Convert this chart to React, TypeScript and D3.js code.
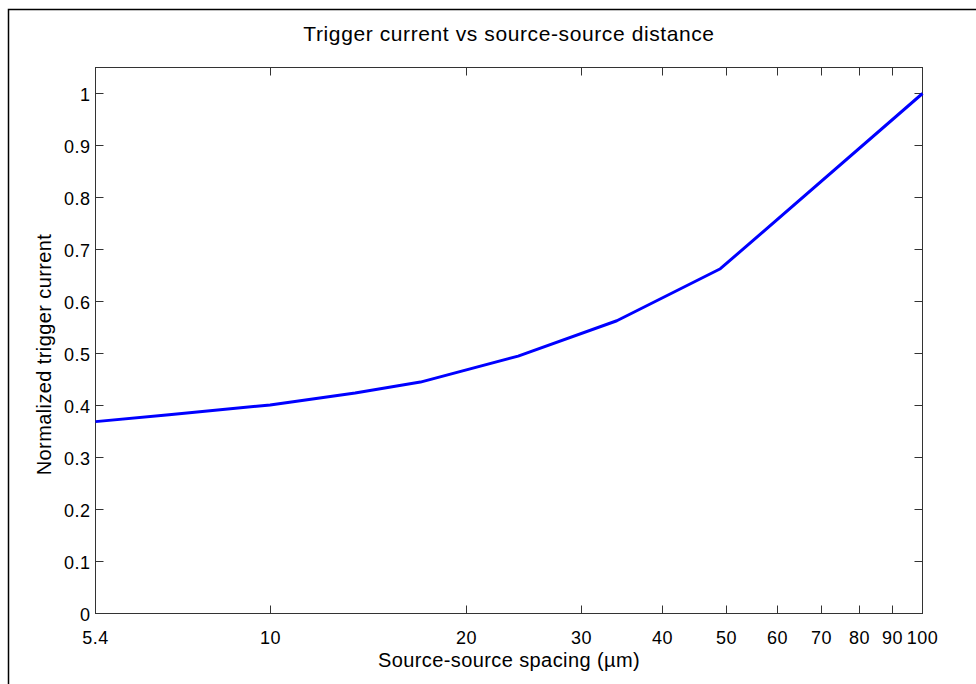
import React, { useEffect, useRef } from 'react';
import * as d3 from 'd3';

// spacing in µm and normalized trigger current
const spacing = [5.4, 7, 10, 13.5, 17, 24, 34, 49, 100];
const current = [0.369, 0.382, 0.401, 0.424, 0.445, 0.495, 0.563, 0.663, 1.0];

const xTicks = [5.4, 10, 20, 30, 40, 50, 60, 70, 80, 90, 100];
const yTicks = [0, 0.1, 0.2, 0.3, 0.4, 0.5, 0.6, 0.7, 0.8, 0.9, 1];

function App() {
  const svgRef = useRef<SVGSVGElement>(null);
  const width = 976;
  const height = 684;

  useEffect(() => {
    if (!svgRef.current) return;
    const svg = d3.select(svgRef.current);
    svg.selectAll('*').remove();

    const margin = { top: 67, right: 54, bottom: 71, left: 95 };
    const innerWidth = width - margin.left - margin.right;
    const innerHeight = height - margin.top - margin.bottom;
    const font = '"Liberation Sans", Arial, Helvetica, sans-serif';

    // figure frame (only top/left edges visible)
    svg.append('path')
      .attr('d', `M8.5,${height} L8.5,9.5 L${width},9.5`)
      .attr('fill', 'none')
      .attr('stroke', '#000')
      .attr('stroke-width', 1.5);

    const xScale = d3.scaleLog().domain([5.4, 100]).range([0, innerWidth]);
    const yScale = d3.scaleLinear().domain([0, 1.05]).range([innerHeight, 0]);

    const g = svg.append('g')
      .attr('transform', `translate(${margin.left + 0.5},${margin.top + 0.5})`);

    const tickLen = 8;
    const axisColor = '#333';

    // box
    g.append('rect')
      .attr('x', 0).attr('y', 0)
      .attr('width', innerWidth).attr('height', innerHeight)
      .attr('fill', 'none')
      .attr('stroke', axisColor);

    // x ticks (inward, top and bottom)
    xTicks.forEach(t => {
      const x = Math.round(xScale(t));
      g.append('line').attr('x1', x).attr('x2', x)
        .attr('y1', innerHeight).attr('y2', innerHeight - tickLen).attr('stroke', axisColor);
      g.append('line').attr('x1', x).attr('x2', x)
        .attr('y1', 0).attr('y2', tickLen).attr('stroke', axisColor);
      g.append('text')
        .attr('x', x)
        .attr('y', innerHeight + 30)
        .attr('text-anchor', 'middle')
        .style('font-family', font)
        .style('font-size', '18px')
        .style('letter-spacing', '0.5px')
        .text(String(t));
    });

    // y ticks (inward, left and right)
    yTicks.forEach(t => {
      const y = Math.round(yScale(t));
      g.append('line').attr('x1', 0).attr('x2', tickLen)
        .attr('y1', y).attr('y2', y).attr('stroke', axisColor);
      g.append('line').attr('x1', innerWidth).attr('x2', innerWidth - tickLen)
        .attr('y1', y).attr('y2', y).attr('stroke', axisColor);
      g.append('text')
        .attr('x', -5)
        .attr('y', y + 7)
        .attr('text-anchor', 'end')
        .style('font-family', font)
        .style('font-size', '18px')
        .style('letter-spacing', '0.5px')
        .text(String(t));
    });

    // data line
    const line = d3.line<number>()
      .x((d, i) => xScale(spacing[i]))
      .y(d => yScale(d));

    g.append('path')
      .datum(current)
      .attr('fill', 'none')
      .attr('stroke', '#0000ff')
      .attr('stroke-width', 3)
      .attr('stroke-linejoin', 'round')
      .attr('d', line);

    // title
    g.append('text')
      .attr('x', innerWidth / 2)
      .attr('y', -27)
      .attr('text-anchor', 'middle')
      .style('font-family', font)
      .style('font-size', '21px')
      .style('letter-spacing', '0.6px')
      .text('Trigger current vs source-source distance');

    // x label
    g.append('text')
      .attr('x', innerWidth / 2)
      .attr('y', innerHeight + 53)
      .attr('text-anchor', 'middle')
      .style('font-family', font)
      .style('font-size', '20px')
      .style('letter-spacing', '0.4px')
      .text('Source-source spacing (µm)');

    // y label
    g.append('text')
      .attr('transform', 'rotate(-90)')
      .attr('x', -innerHeight / 2 - 14)
      .attr('y', -45)
      .attr('text-anchor', 'middle')
      .style('font-family', font)
      .style('font-size', '20px')
      .style('letter-spacing', '0.4px')
      .text('Normalized trigger current');
  }, []);

  return (
    <svg
      ref={svgRef}
      width={width}
      height={height}
      style={{ position: 'absolute', left: 0, top: 0, background: '#fff' }}
    />
  );
}

export default App;
